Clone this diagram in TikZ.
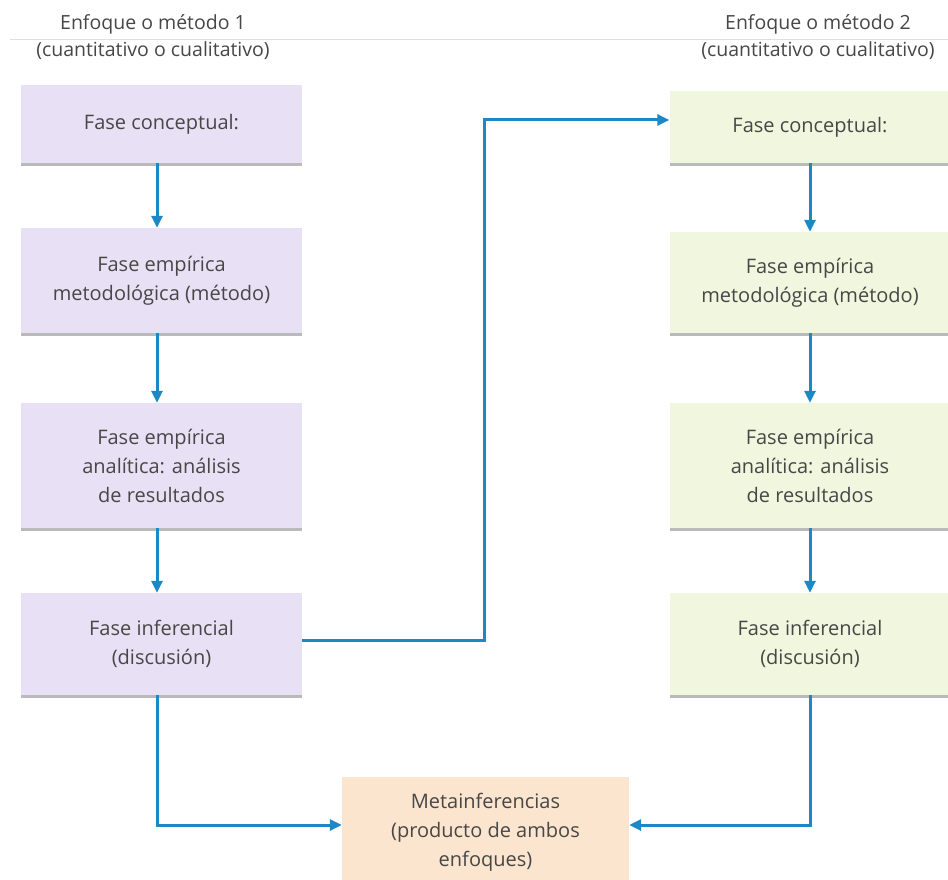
\documentclass[tikz,border=0pt]{standalone}
\usepackage{fontspec}
\setmainfont{Open Sans}
\usetikzlibrary{arrows.meta,shadows}
\definecolor{lav}{HTML}{E8E0F4}
\definecolor{lgreen}{HTML}{F1F6DE}
\definecolor{peach}{HTML}{FBE5CE}
\definecolor{arr}{HTML}{1C88C6}
\definecolor{txt}{HTML}{474747}
\tikzset{
  box/.style={draw=none, minimum width=281pt, align=center, text=txt,
    font=\fontsize{20}{29}\selectfont,
    drop shadow={shadow xshift=0pt, shadow yshift=-3pt, opacity=0.45, fill=gray!80!black}},
  lbox/.style={box, fill=lav},
  rbox/.style={box, fill=lgreen},
  mbox/.style={box, fill=peach, minimum width=287pt},
  conn/.style={draw=arr, line width=3pt, -{Triangle[length=12pt,width=11pt]}},
  title/.style={text=txt, align=center, font=\fontsize{19.5}{27}\selectfont}
}
\begin{document}
\begin{tikzpicture}[x=1pt,y=-1pt]
\useasboundingbox[fill=white] (0,0) rectangle (948,880);
\draw[gray!25, line width=1pt] (10,40) -- (948,40);
\node[title] (t1) at (153,37) {Enfoque o método 1\\(cuantitativo o cualitativo)};
\node[title] (t2) at (818,37) {Enfoque o método 2\\(cuantitativo o cualitativo)};
% left column
\node[lbox, minimum height=78pt] (l1) at (161.5,124) {Fase conceptual:};
\node[lbox, minimum height=105pt] (l2) at (161.5,280.5) {Fase empírica\\metodológica (método)};
\node[lbox, minimum height=125pt] (l3) at (161.5,465.5) {Fase empírica\\analítica: análisis\\de resultados};
\node[lbox, minimum height=102pt] (l4) at (161.5,644) {Fase inferencial\\(discusión)};
% right column
\node[rbox, minimum height=72pt] (r1) at (810,127) {Fase conceptual:};
\node[rbox, minimum height=101pt] (r2) at (810,282.5) {Fase empírica\\metodológica (método)};
\node[rbox, minimum height=125pt] (r3) at (810,465.5) {Fase empírica\\analítica: análisis\\de resultados};
\node[rbox, minimum height=102pt] (r4) at (810,644) {Fase inferencial\\(discusión)};
% meta
\node[mbox, minimum height=110pt] (m) at (485.5,832) {Metainferencias\\(producto de ambos\\enfoques)};
% connectors
\draw[conn] (l1.south -| 157,0) -- (l2.north -| 157,0);
\draw[conn] (l2.south -| 157,0) -- (l3.north -| 157,0);
\draw[conn] (l3.south -| 157,0) -- (l4.north -| 157,0);
\draw[conn] (r1.south) -- (r2.north);
\draw[conn] (r2.south) -- (r3.north);
\draw[conn] (r3.south) -- (r4.north);
\draw[conn] (l4.east |- 0,640) -- (484,640) -- (484,120) -- (r1.west |- 0,120);
\draw[conn] (l4.south -| 157,0) |- (m.west |- 0,825);
\draw[conn] (r4.south) |- (m.east |- 0,825);
\end{tikzpicture}
\end{document}
